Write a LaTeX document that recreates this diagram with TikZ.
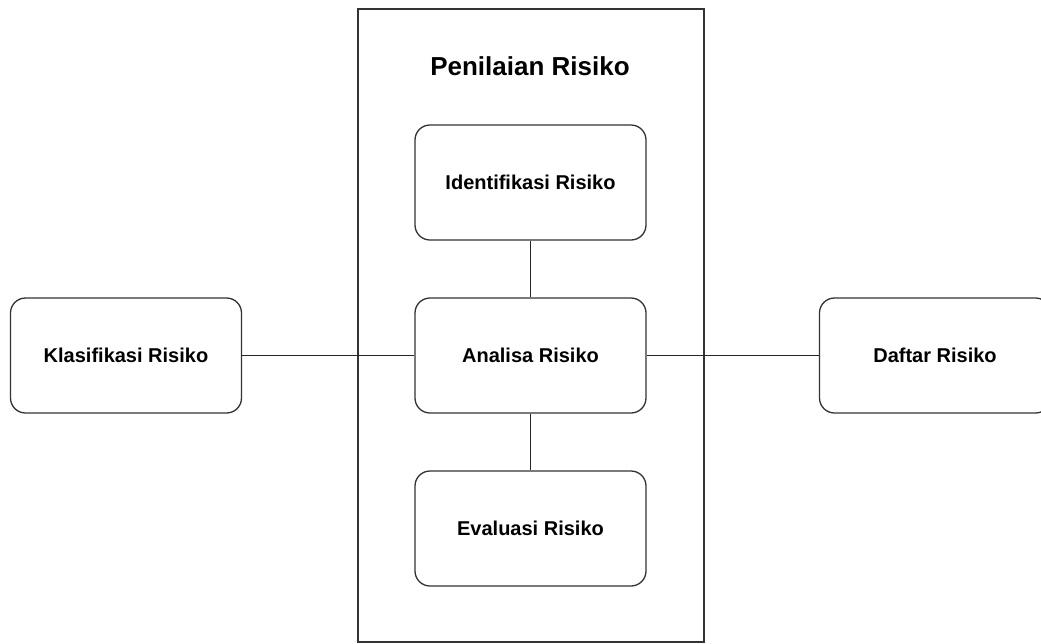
\documentclass[tikz,border=0pt]{standalone}
\usepackage{fontspec}
\setmainfont{Liberation Sans}
\usepackage{tikz}
\usetikzlibrary{positioning}

\begin{document}
\begin{tikzpicture}[
  x=1pt, y=-1pt,
  box/.style={draw=black!80, line width=1.3pt, rounded corners=15pt, minimum width=231pt, minimum height=115pt, align=center, inner sep=0pt, font=\fontsize{20}{24}\selectfont\bfseries},
  procbox/.style={box},
  sidebox/.style={box},
  frame/.style={draw=black!80, line width=1.3pt},
  conn/.style={draw=black!85, line width=1.3pt}
]
\useasboundingbox (0,0) rectangle (1041,643);
\draw[frame] (358,9) rectangle (704,642);
\node[font=\fontsize{26}{30}\selectfont\bfseries] (judul) at (530,66) {Penilaian Risiko};

\node[procbox] (ident) at (530.5,182.5) {Identifikasi Risiko};
\node[procbox] (analisa) at (530.5,355.5) {Analisa Risiko};
\node[procbox] (eval) at (530.5,528.5) {Evaluasi Risiko};
\node[sidebox] (klasif) at (126,355.5) {Klasifikasi Risiko};
\node[sidebox] (daftar) at (935,355.5) {Daftar Risiko};

\draw[conn] (ident) -- (analisa);
\draw[conn] (analisa) -- (eval);
\draw[conn] (klasif) -- (analisa);
\draw[conn] (analisa) -- (daftar);
\end{tikzpicture}
\end{document}
